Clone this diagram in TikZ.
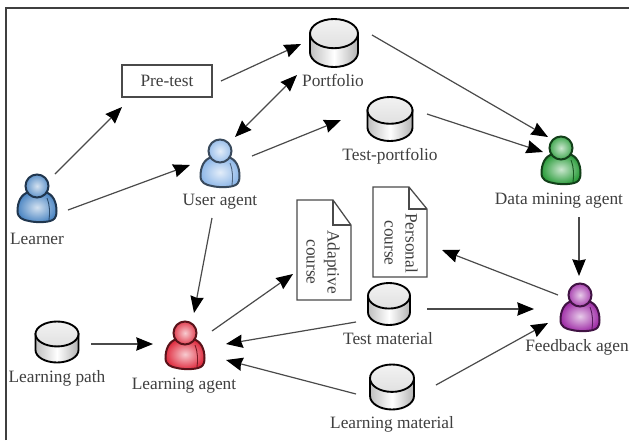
\documentclass[tikz,border=0pt]{standalone}
\usepackage{fontspec}
\setmainfont{Liberation Serif}
\usetikzlibrary{arrows.meta}
\definecolor{inkc}{HTML}{3F3F3F}
\definecolor{linec}{HTML}{4A4A4A}
\definecolor{pblue}{HTML}{4F88C4}
\definecolor{psky}{HTML}{8FB8E8}
\definecolor{pgreen}{HTML}{2E9E3E}
\definecolor{pred}{HTML}{E02F42}
\definecolor{ppurple}{HTML}{A030A8}
\tikzset{
  arr/.style={draw=linec,line width=0.9pt,-{Stealth[length=12.5pt,width=10pt,inset=1pt,color=black]}},
  biarr/.style={draw=linec,line width=0.9pt,{Stealth[length=12.5pt,width=10pt,inset=1pt,color=black]}-{Stealth[length=12.5pt,width=10pt,inset=1pt,color=black]}},
  lab/.style={text=inkc,inner sep=0pt,text height=9pt,text depth=3pt,font=\fontsize{13}{15.75}\selectfont},
  vlab/.style={text=inkc,inner sep=0pt,font=\fontsize{13}{15.75}\selectfont,rotate=-90,align=center},
  box/.style={draw=linec,line width=0.95pt,fill=white},
  person/.pic={
    \path[draw=#1!40!black,line width=1.5pt,inner color=#1!25!white,outer color=#1,rounded corners=0pt]
      (-8,-6) .. controls (-16,-4) and (-19.5,4) .. (-19.5,13)
      .. controls (-19.5,20) and (-14,22) .. (-8,23)
      .. controls (-2,24.5) and (8,24.5) .. (13,23)
      .. controls (17,22) and (19.5,20) .. (19.5,13)
      .. controls (19.5,4) and (16,-4) .. (8,-6) -- cycle;
    \draw[#1!55!black,line width=0.7pt] (10,0) .. controls (13,8) and (13,15) .. (12,22);
    \path[draw=#1!40!black,line width=1.5pt,inner color=#1!25!white,outer color=#1!90!white] (0,-12) circle[radius=11.5];
  },
  cylinder/.pic={
    \path[draw=black,line width=1.4pt,left color=black!25,right color=black!30,middle color=white]
      (-23,-9) -- (-23,9) arc[start angle=180,end angle=0,x radius=23,y radius=14] -- (23,-9) -- cycle;
    \path[draw=black,line width=1.4pt,top color=black!5,bottom color=black!12] (0,-9) ellipse[x radius=23,y radius=14];
  },
}
\newcommand{\personat}[4]{%
  \node[inner sep=0pt,minimum width=28.5pt,minimum height=35pt] (#1) at (#2,#3) {};
  \pic at (#1.center) {person=#4};}
\newcommand{\cylat}[5]{%
  \node[inner sep=0pt,minimum width=#4*0.75pt,minimum height=#5*0.75pt] (#1) at (#2,#3) {};
  \pic[xscale=#4/46,yscale=#5/46] at (#1.center) {cylinder};}
\newcommand{\docat}[7]{%
  \node[inner sep=0pt,minimum width=#4*0.75pt,minimum height=#5*0.75pt] (#1) at (#2,#3) {};
  \begin{scope}[shift={(#2,#3)}]
    \draw[box] (-#4/2,-#5/2) -- (#4/2-#6,-#5/2) -- (#4/2,-#5/2+#7) -- (#4/2,#5/2) -- (-#4/2,#5/2) -- cycle;
    \draw[box,fill=none] (#4/2-#6,-#5/2) -- (#4/2-#6,-#5/2+#7) -- (#4/2,-#5/2+#7);
  \end{scope}}
\begin{document}
\begin{tikzpicture}[x=0.75pt,y=-0.75pt]
\useasboundingbox (0,0) rectangle (629,440);
\fill[white] (0,0) rectangle (629,440);
\draw[inkc,line width=1.9pt] (6,440) -- (6,8) -- (629,8);

\node[box,minimum width=67.5pt,minimum height=24pt,inner sep=0pt,text=inkc,font=\fontsize{13}{15.75}\selectfont] (pretest) at (167,81) {Pre-test};

\personat{learner}{37}{198}{pblue}
\personat{user}{220}{163}{psky}
\personat{data}{561}{160}{pgreen}
\personat{lagent}{185}{345}{pred}
\personat{feedback}{580}{307}{ppurple}

\cylat{portfolio}{334}{43}{48}{48}
\cylat{testportfolio}{390}{119}{45}{44}
\cylat{lpath}{57}{342}{43}{41}
\cylat{tmat}{389}{304}{42}{42}
\cylat{lmat}{392}{387}{44}{45}

\docat{adaptive}{324}{250}{54}{100}{18}{25}
\docat{personal}{400}{232}{54}{90}{18}{22}

\node[vlab] (adaptivetext) at (323,262) {Adaptive\\course};
\node[vlab] (personaltext) at (401,243) {Personal\\course};

\node[lab] (learnerlab) at (37,240) {Learner};
\node[lab] (userlab) at (220,201) {User agent};
\node[lab] (datalab) at (559,200) {Data mining agent};
\node[lab] (lagentlab) at (184,385) {Learning agent};
\node[lab] (lpathlab) at (57,378) {Learning path};
\node[lab] (portfoliolab) at (333,82) {Portfolio};
\node[lab] (testportfoliolab) at (390,156) {Test-portfolio};
\node[lab] (tmatlab) at (388,340) {Test material};
\node[lab] (lmatlab) at (392,424) {Learning material};
\node[lab,anchor=west] (feedbacklab) at (525,347) {Feedback agen};

\draw[arr] ([shift={(18,-24)}]learner.center) -- ([shift={(-45,26)}]pretest.center);
\draw[arr] ([shift={(31,12)}]learner.center) -- ([shift={(-30,2)}]user.center);
\draw[arr] ([shift={(54,0)}]pretest.center) -- ([shift={(-33,1)}]portfolio.center);
\draw[biarr] ([shift={(15,-26)}]user.center) -- ([shift={(-37,32)}]portfolio.center);
\draw[arr] ([shift={(32,-7)}]user.center) -- ([shift={(-49,1)}]testportfolio.center);
\draw[arr] ([shift={(38,-8)}]portfolio.center) -- ([shift={(-13,-23)}]data.center);
\draw[arr] ([shift={(37,-5)}]testportfolio.center) -- ([shift={(-18,-8)}]data.center);
\draw[arr] ([shift={(18,57)}]data.center) -- ([shift={(-1,-31)}]feedback.center);
\draw[arr] ([shift={(-22,-12)}]feedback.center) -- ([shift={(42,18)}]personal.center);
\draw[arr] ([shift={(38,5)}]tmat.center) -- ([shift={(-46,2)}]feedback.center);
\draw[arr] ([shift={(44,-2)}]lmat.center) -- ([shift={(-32,16)}]feedback.center);
\draw[arr] ([shift={(-8,55)}]user.center) -- ([shift={(9,-32)}]lagent.center);
\draw[arr] ([shift={(34,2)}]lpath.center) -- ([shift={(-32,-1)}]lagent.center);
\draw[arr] ([shift={(27,-14)}]lagent.center) -- ([shift={(-31,24)}]adaptive.center);
\draw[arr] ([shift={(-33,18)}]tmat.center) -- ([shift={(41,-1)}]lagent.center);
\draw[arr] ([shift={(-36,7)}]lmat.center) -- ([shift={(41,15)}]lagent.center);
\end{tikzpicture}
\end{document}
